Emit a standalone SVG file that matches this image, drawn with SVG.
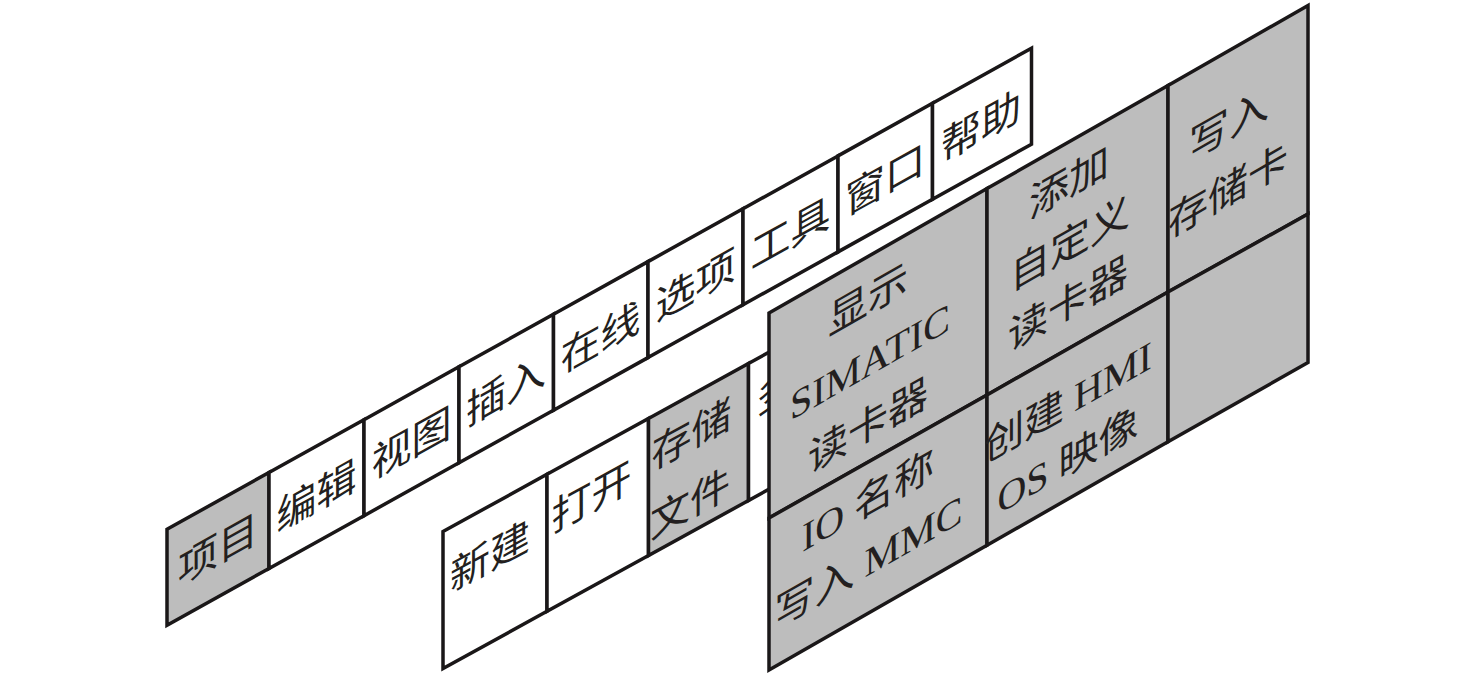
<svg xmlns="http://www.w3.org/2000/svg" width="1476" height="679" viewBox="0 0 1476 679">
<style>
.c{stroke:#1a1718;stroke-width:3.5;stroke-linejoin:miter}
.w{fill:#fff}
.g{fill:#bdbdbd}
.t{font-family:"Liberation Serif","Noto Sans CJK SC",serif;font-size:40px;fill:#231f20;text-anchor:middle;dominant-baseline:central}
</style>
<rect width="1476" height="679" fill="#fff"/>
<g id="menubar">
<g id="m-xiangmu"><polygon class="c g" points="167,529.3 269,472.5 269,568.5 167,625.3"/><text class="t" transform="translate(218,550) skewY(-29.1)">项目</text></g>
<g id="m-bianji"><polygon class="c w" points="269,472.5 364,419.7 364,515.7 269,568.5"/><text class="t" transform="translate(316.5,497) skewY(-29.1)">编辑</text></g>
<g id="m-shitu"><polygon class="c w" points="364,419.7 459,366.8 459,462.8 364,515.7"/><text class="t" transform="translate(411.5,444) skewY(-29.1)">视图</text></g>
<g id="m-charu"><polygon class="c w" points="459,366.8 553.5,314.2 553.5,410.2 459,462.8"/><text class="t" transform="translate(506,391) skewY(-29.1)">插入</text></g>
<g id="m-zaixian"><polygon class="c w" points="553.5,314.2 648,261.6 648,357.6 553.5,410.2"/><text class="t" transform="translate(600.5,338.5) skewY(-29.1)">在线</text></g>
<g id="m-xuanxiang"><polygon class="c w" points="648,261.6 743,208.8 743,304.8 648,357.6"/><text class="t" transform="translate(695.5,286) skewY(-29.1)">选项</text></g>
<g id="m-gongju"><polygon class="c w" points="743,208.8 838,155.9 838,251.9 743,304.8"/><text class="t" transform="translate(790.5,234) skewY(-29.1)">工具</text></g>
<g id="m-chuangkou"><polygon class="c w" points="838,155.9 932.5,103.3 932.5,199.3 838,251.9"/><text class="t" transform="translate(885,180.5) skewY(-29.1)">窗口</text></g>
<g id="m-bangzhu"><polygon class="c w" points="932.5,103.3 1031.5,48.2 1031.5,144.2 932.5,199.3"/><text class="t" transform="translate(981,127) skewY(-29.1)">帮助</text></g>
</g>
<g id="filemenu">
<g id="f-xinjian"><polygon class="c w" points="443,531.5 547,474.3 547,611.3 443,668.5"/><text class="t" transform="translate(490,557) skewY(-28.8)">新建</text></g>
<g id="f-dakai"><polygon class="c w" points="547,474.3 648.5,418.5 648.5,555.5 547,611.3"/><text class="t" transform="translate(591.5,498) skewY(-28.8)">打开</text></g>
<g id="f-cunchu"><polygon class="c g" points="648.5,418.5 748.5,363.5 748.5,500.5 648.5,555.5"/><text class="t" transform="translate(691.5,435) skewY(-28.8)">存储</text><text class="t" transform="translate(690,504) skewY(-28.8)">文件</text></g>
<g id="f-next"><polygon class="c w" points="748.5,363.5 880,291.2 880,428.2 748.5,500.5"/><text class="t" transform="translate(776,391) skewY(-28.8)">多</text></g>
</g>
<g id="submenu">
<g id="s-xianshi"><polygon class="c g" points="769,313 987,188.6 987,395 769,518"/><text class="t" transform="translate(868,300) skewY(-29.7)">显示</text><text class="t" transform="translate(870,362) skewY(-29.7)">SIMATIC</text><text class="t" transform="translate(868,426) skewY(-29.7)">读卡器</text></g>
<g id="s-tianjia"><polygon class="c g" points="987,188.6 1168,85.4 1168,292 987,395"/><text class="t" transform="translate(1069,183) skewY(-29.7)">添加</text><text class="t" transform="translate(1070,244) skewY(-29.7)">自定义</text><text class="t" transform="translate(1068,304) skewY(-29.7)">读卡器</text></g>
<g id="s-xieru"><polygon class="c g" points="1168,85.4 1308,5.5 1308,214 1168,292"/><text class="t" transform="translate(1229,125) skewY(-29.7)">写入</text><text class="t" transform="translate(1228,191) skewY(-29.7)">存储卡</text></g>
<g id="s-ioname"><polygon class="c g" points="769,518 987,395 987,545.3 769,670"/><text class="t" transform="translate(868,501) skewY(-29.7)">IO 名称</text><text class="t" transform="translate(868.5,562) skewY(-29.7)">写入 MMC</text></g>
<g id="s-hmi"><polygon class="c g" points="987,395 1168,292 1168,441.8 987,545.3"/><text class="t" transform="translate(1068,402) skewY(-29.7)">创建 HMI</text><text class="t" transform="translate(1068,461) skewY(-29.7)">OS 映像</text></g>
<g id="s-empty"><polygon class="c g" points="1168,292 1308,214 1308,362.5 1168,441.8"/></g>
</g>
</svg>
